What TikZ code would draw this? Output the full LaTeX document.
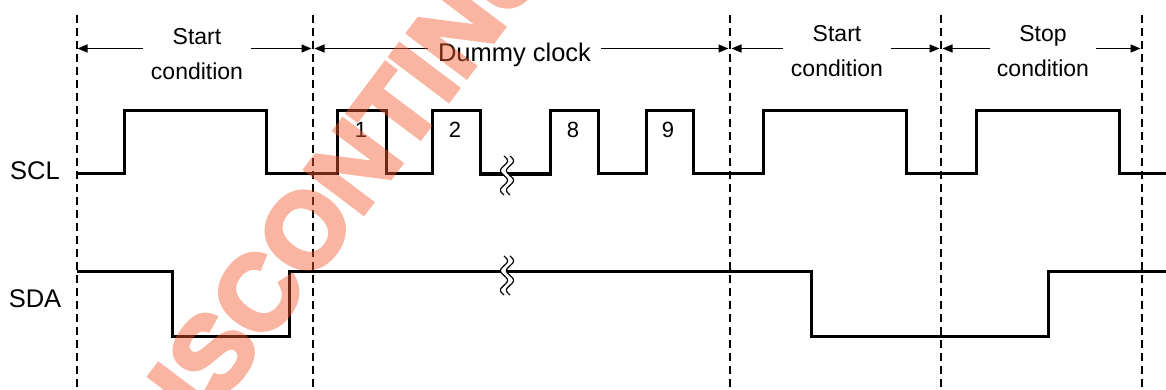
\documentclass[tikz,border=0pt]{standalone}
\usepackage{fontspec}
\setmainfont{Liberation Sans}
\newfontfamily\wmfont[FakeBold=4]{Liberation Sans Bold}
\usetikzlibrary{arrows.meta}
\definecolor{wmcol}{RGB}{242,92,48}
\tikzset{
  sig/.style={line width=3pt, line join=miter},
  guide/.style={line width=1.4pt, dash pattern=on 8pt off 5pt},
  dimarrow/.style={line width=1.3pt, -{Triangle[length=10pt,width=8pt]}},
  condlab/.style={font=\fontsize{23}{23}\selectfont, anchor=base, inner xsep=8pt, inner ysep=0pt},
  siglab/.style={font=\fontsize{25.5}{25.5}\selectfont, anchor=base, inner sep=0pt},
  numlab/.style={font=\fontsize{22}{22}\selectfont, anchor=base, inner sep=0pt},
  brk/.style={line width=1.2pt},
  wmark/.style={text=wmcol, font=\wmfont\fontsize{106}{106}\selectfont, inner sep=0pt}
}
\newcommand{\breakmark}[2]{%
  \fill[white] plot[domain=0:2,samples=41] ({#1+3.5*sin(360*\x)},{#2+19.5*\x})
     -- plot[domain=2:0,samples=41] ({#1+6+3.5*sin(360*\x)},{#2+19.5*\x}) -- cycle;
  \draw[brk] plot[domain=0:2,samples=41] ({#1+3.5*sin(360*\x)},{#2+19.5*\x});
  \draw[brk] plot[domain=0:2,samples=41] ({#1+6+3.5*sin(360*\x)},{#2+19.5*\x});
}
\begin{document}
\begin{tikzpicture}[x=1pt,y=-1pt]
\useasboundingbox[fill=white] (0,0) rectangle (1166,390);

% dashed guide lines
\foreach \n/\gx in {1/77,2/313,3/730,4/941,5/1142}{
  \coordinate (t\n) at (\gx,15);
  \coordinate (b\n) at (\gx,390);
  \coordinate (v\n) at (\gx,48.5);
  \draw[guide] (t\n) -- (b\n);
}

% labels of the phases
\node[condlab] (s1a) at (197,45) {Start};
\node[condlab] (s1b) at (197,80) {condition};
\node[condlab, inner xsep=10pt, font=\fontsize{25.5}{25.5}\selectfont] (dc) at (514.5,62) {Dummy clock};
\node[condlab] (s2a) at (837,41.5) {Start};
\node[condlab] (s2b) at (837,76.5) {condition};
\node[condlab] (s3a) at (1043,41.5) {Stop};
\node[condlab, inner xsep=6.5pt] (s3b) at (1043,76.5) {condition};

% dimension arrows
\draw[dimarrow] (s1b.west |- v1) -- ([xshift=0.5pt]v1);
\draw[dimarrow] (s1b.east |- v2) -- ([xshift=-1.5pt]v2);
\draw[dimarrow] (dc.west |- v2) -- ([xshift=1.5pt]v2);
\draw[dimarrow] (dc.east |- v3) -- ([xshift=-1.5pt]v3);
\draw[dimarrow] (s2b.west |- v3) -- ([xshift=1.5pt]v3);
\draw[dimarrow] (s2b.east |- v4) -- ([xshift=-1.5pt]v4);
\draw[dimarrow] (s3b.west |- v4) -- ([xshift=1.5pt]v4);
\draw[dimarrow] (s3b.east |- v5) -- ([xshift=-1.5pt]v5);

% signal names
\node[siglab] (scl) at (35,179) {SCL};
\node[siglab] (sda) at (35,307) {SDA};

% SCL
\draw[sig] (77,174) -- (124,174) -- (124,111) -- (266,111) -- (266,174) -- (337,174)
  -- (337,111) -- (386,111) -- (386,174) -- (432,174) -- (432,111) -- (480,111) -- (480,174);
\draw[line width=4pt] (478.5,174) -- (551.5,174);
\draw[sig] (550,174) -- (550,111) -- (598,111) -- (598,174) -- (646,174) -- (646,111)
  -- (693,111) -- (693,174) -- (763,174) -- (763,111) -- (906,111) -- (906,174) -- (976,174)
  -- (976,111) -- (1119,111) -- (1119,174) -- (1166,174);

% SDA
\draw[sig] (77,271) -- (172,271) -- (172,336) -- (289,336) -- (289,271) -- (811,271)
  -- (811,336) -- (1048,336) -- (1048,271) -- (1166,271);

% breaks
\breakmark{504}{156}
\breakmark{504}{256}

% clock numbers
\node[numlab] (n1) at (361,138) {1};
\node[numlab] (n2) at (455,138) {2};
\node[numlab] (n8) at (573,138) {8};
\node[numlab] (n9) at (668,138) {9};

% watermark
\begin{scope}
\clip (0,0) rectangle (1166,390);
\begin{scope}[transparency group, opacity=0.45]
\node[wmark, rotate=53] (wm) at (371,143) {DISCONTINUED};
\end{scope}
\end{scope}
\end{tikzpicture}
\end{document}
